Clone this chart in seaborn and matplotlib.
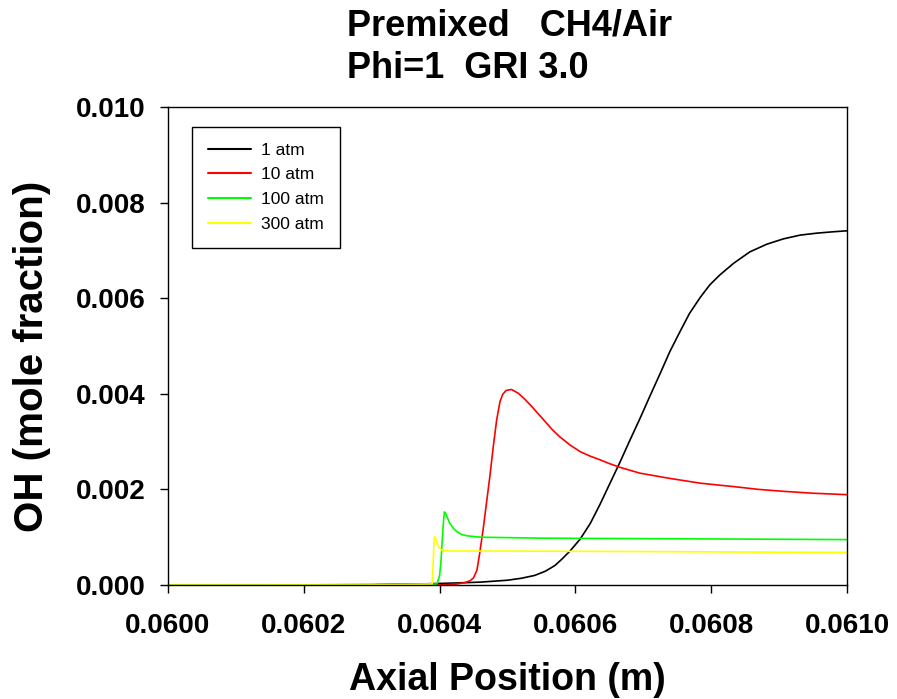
import numpy as np
import pandas as pd
import matplotlib
matplotlib.use("Agg")
import matplotlib.pyplot as plt
import seaborn as sns
from matplotlib.ticker import FormatStrFormatter

# ---- data ----
labels = ["1 atm", "10 atm", "100 atm", "300 atm"]
colors = ["#000000", "#FF0000", "#00FF00", "#FFFF00"]

black_x = [0.06000, 0.06020, 0.06030, 0.06038, 0.06042, 0.06046, 0.06050, 0.06052,
           0.06054, 0.060556, 0.060570, 0.060580, 0.060592, 0.060607, 0.060622,
           0.060636, 0.060651, 0.060666, 0.060680, 0.060695, 0.060710, 0.060725,
           0.060739, 0.060754, 0.060768, 0.060784, 0.060798, 0.060813, 0.060833,
           0.060857, 0.060882, 0.060906, 0.060931, 0.060955, 0.060980, 0.061000]
black_y = [0.0, 0.000003, 0.000008, 0.000025, 0.00004, 0.00006, 0.00010, 0.00014,
           0.00020, 0.00029, 0.00041, 0.00054, 0.00071, 0.00096, 0.00129,
           0.00168, 0.00213, 0.00258, 0.00302, 0.00348, 0.00396, 0.00443,
           0.00488, 0.00530, 0.00568, 0.00602, 0.00628, 0.00649, 0.00673,
           0.00697, 0.00713, 0.00724, 0.00732, 0.00736, 0.00739, 0.00741]

red_x = [0.06000, 0.06030, 0.06040, 0.060425, 0.060437, 0.060445, 0.060450, 0.060455,
         0.060459, 0.060464, 0.060469, 0.060474, 0.060479, 0.060484, 0.060489,
         0.060493, 0.060498, 0.060506, 0.060516, 0.060526, 0.060536, 0.060546,
         0.060556, 0.060566, 0.060577, 0.060592, 0.060607, 0.060621, 0.060636,
         0.060650, 0.060666, 0.060695, 0.060739, 0.060784, 0.060832, 0.060870,
         0.060906, 0.060950, 0.061000]
red_y = [0.0, 0.0, 0.000003, 0.00002, 0.00005, 0.00009, 0.00015, 0.00031,
         0.00066, 0.00115, 0.00171, 0.00227, 0.00289, 0.00345, 0.00384,
         0.00399, 0.00407, 0.00409, 0.00401, 0.00388, 0.00373, 0.00357,
         0.00341, 0.00325, 0.00310, 0.00293, 0.00279, 0.00270, 0.00262,
         0.00254, 0.00246, 0.00234, 0.00223, 0.00213, 0.00206, 0.00200,
         0.00196, 0.00192, 0.00189]

green_x = [0.06000, 0.06030, 0.060396, 0.060400, 0.060402, 0.060405, 0.060407,
           0.060409, 0.060412, 0.060415, 0.060420, 0.060425, 0.060432, 0.060440,
           0.060460, 0.060550, 0.060700, 0.061000]
green_y = [0.0, 0.000003, 0.00002, 0.00020, 0.00049, 0.00119, 0.00153,
           0.00150, 0.00139, 0.00129, 0.00119, 0.00112, 0.00106, 0.00103,
           0.00100, 0.00098, 0.00097, 0.00095]

yellow_x = [0.06000, 0.06030, 0.060389, 0.060391, 0.060392, 0.060393, 0.060395,
            0.060398, 0.060403, 0.060415, 0.060500, 0.060700, 0.061000]
yellow_y = [0.0, 0.000002, 0.00002, 0.00063, 0.00098, 0.00101, 0.00095,
            0.00080, 0.00073, 0.00071, 0.00071, 0.00070, 0.00068]

x_ticks = [0.0600, 0.0602, 0.0604, 0.0606, 0.0608, 0.0610]
y_ticks = [0.000, 0.002, 0.004, 0.006, 0.008, 0.010]

# ---- build long-form table ----
frames = []
for lab, xs, ys in zip(labels, [black_x, red_x, green_x, yellow_x],
                       [black_y, red_y, green_y, yellow_y]):
    frames.append(pd.DataFrame({"x": xs, "y": ys, "series": lab}))
df = pd.concat(frames, ignore_index=True)

sns.set_style("ticks")
plt.rcParams["font.family"] = ["Liberation Sans", "DejaVu Sans"]
plt.rcParams["text.color"] = "black"
plt.rcParams["axes.labelcolor"] = "black"
plt.rcParams["xtick.color"] = "black"
plt.rcParams["ytick.color"] = "black"

fig = plt.figure(figsize=(8.97, 6.99), dpi=100)
ax = fig.add_axes([168 / 897, 1 - 585 / 699, 679 / 897, 478 / 699])

sns.lineplot(data=df, x="x", y="y", hue="series", hue_order=labels,
             palette=dict(zip(labels, colors)), linewidth=1.2, ax=ax,
             estimator=None, sort=False, legend=True)

ax.set_xlim(0.0600, 0.0610)
ax.set_ylim(0.0, 0.010)
ax.set_xticks(x_ticks)
ax.set_yticks(y_ticks)
ax.xaxis.set_major_formatter(FormatStrFormatter("%.4f"))
ax.yaxis.set_major_formatter(FormatStrFormatter("%.3f"))

for s in ax.spines.values():
    s.set_visible(True)
    s.set_color("black")
    s.set_linewidth(1.0)

ax.tick_params(axis="both", direction="out", length=6, width=1.0, color="black",
               labelcolor="black", labelsize=20, top=False, right=False)
ax.tick_params(axis="y", pad=10)
ax.tick_params(axis="x", pad=14)
for lab in ax.get_xticklabels() + ax.get_yticklabels():
    lab.set_fontweight("bold")

ax.set_xlabel("Axial Position (m)", fontsize=27, fontweight="bold", labelpad=17,
              color="black")
ax.set_ylabel("OH (mole fraction)", fontsize=29, fontweight="bold",
              color="black")
ax.yaxis.set_label_coords(-0.173, 0.479)

fig.text(510 / 897, 1 - 8 / 699, "Premixed   CH4/Air\nPhi=1  GRI 3.0",
         ha="center", va="top", multialignment="left", fontsize=26,
         fontweight="bold", linespacing=1.3, color="black")

leg = ax.legend(loc="upper left", bbox_to_anchor=(24 / 679, 1 - 20 / 478),
                borderaxespad=0, fontsize=12.5, frameon=True, fancybox=False,
                edgecolor="black", framealpha=1, handlelength=2.5,
                handletextpad=0.6, labelspacing=0.55, borderpad=0.9,
                title=None)
leg.get_frame().set_linewidth(1.0)
for text in leg.get_texts():
    text.set_color("black")
for line in leg.get_lines():
    line.set_linewidth(1.5)

fig.savefig("out.png", dpi=100, facecolor="white")
